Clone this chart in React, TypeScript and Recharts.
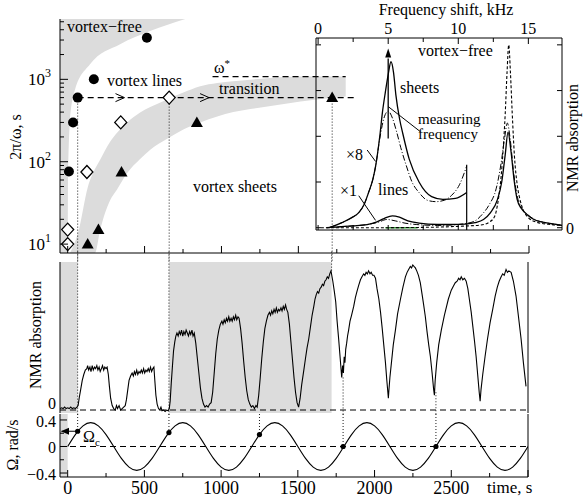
import React from 'react';
import {
  ComposedChart, LineChart, Line, Area, Scatter, XAxis, YAxis,
  ReferenceArea, ReferenceLine, ReferenceDot,
} from 'recharts';

const W = 585;
const H = 500;
const SERIF = '"Liberation Serif", "Times New Roman", serif';
const GRAY = '#dcdcdc';
const INK = '#000';

// shared time axis, s
const timeDomain: [number, number] = [-50, 3000];
const timeTicks = [0, 250, 500, 750, 1000, 1250, 1500, 1750, 2000, 2250, 2500, 2750, 3000];
const timeLabels = [0, 500, 1000, 1500, 2000, 2500];

// top panel: 2pi/omega, s (log)
const periodDomain: [number, number] = [7.8, 5400];
const periodTicks = [10, 20, 30, 40, 50, 60, 70, 80, 90, 100, 200, 300, 400, 500, 600, 700, 800, 900, 1000, 2000, 3000, 4000, 5000];
const periodMajors = [10, 100, 1000];

const circleTimes = [8, 35, 65, 170, 515];
const circlePeriods = [76, 300, 600, 1000, 3200];
const diamondTimes = [0, 0, 125, 345, 660];
const diamondPeriods = [10, 15, 75, 300, 600];
const triangleTimes = [130, 200, 350, 840, 1720];
const trianglePeriods = [10, 15, 75, 300, 600];

const vortexFreeTimes = [-50, -5, 2, 15, 48, 145, 341, 536, 765];
const vortexFreeEdge = [7.8, 7.8, 60, 325, 755, 1520, 2670, 3850, 5400];

const transitionTimes = [15, 67, 132, 178, 211, 276, 321, 387, 471, 537, 647, 752, 862, 973, 1077, 1299, 1514, 1808];
const transitionLow = [7.8, 7.8, 7.8, 7.8, 14.8, 34, 46, 73, 108, 140, 190, 246, 300, 355, 400, 468, 538, 620];
const transitionHigh = [7.8, 13.6, 50, 82, 106, 175, 225, 300, 396, 460, 570, 690, 822, 900, 946, 1030, 1080, 1080];

const omegaStar = 1080;
const omegaStarSpan = [942, 1808];
const measuredPeriod = 600;
const measuredSpan = [65, 1885];
const arrowTimes = [350, 900];
const markTimes = [65, 660, 1720];

// middle panel: NMR absorption vs time
const grayIntervals = [[-50, 65], [660, 1720]];
const nmrTrace: [number, number][] = [
  [-50, 0.01], [-40, 0.015], [-30, 0.01], [-20, 0.02], [-10, 0.01], [0, 0.015], [10, 0.01], [20, 0.02], [30, 0.01], [40, 0.015], [50, 0.01], [60, 0.02],
  [68, 0.03], [75, 0.08], [85, 0.14], [95, 0.2], [105, 0.24], [115, 0.27], [125, 0.28],
  [130, 0.3], [137, 0.27], [145, 0.29], [152, 0.26], [160, 0.3], [167, 0.27], [175, 0.29], [182, 0.28], [190, 0.3], [197, 0.27], [205, 0.29], [212, 0.26], [220, 0.28], [227, 0.3], [235, 0.27], [242, 0.29], [250, 0.28], [257, 0.29],
  [265, 0.24], [272, 0.16], [280, 0.08], [290, 0.03], [300, 0.01], [310, 0.0], [318, 0.03], [325, 0.01], [335, 0.03], [345, 0.0], [355, 0.01], [365, 0.02], [375, 0.03],
  [383, 0.07], [392, 0.14], [400, 0.2], [410, 0.23], [420, 0.25],
  [428, 0.23], [435, 0.26], [442, 0.24], [450, 0.27], [457, 0.24], [465, 0.26], [472, 0.25], [480, 0.27], [487, 0.25], [495, 0.28], [502, 0.25], [510, 0.27], [517, 0.26], [525, 0.28], [532, 0.26], [540, 0.29], [547, 0.26], [555, 0.28], [562, 0.29],
  [568, 0.2], [575, 0.1], [583, 0.04], [592, 0.01], [600, 0.0], [608, 0.02], [615, -0.005], [625, 0.0], [635, -0.01], [645, 0.0], [655, -0.005], [662, 0.01],
  [668, 0.06], [675, 0.18], [683, 0.3], [690, 0.4], [698, 0.46], [705, 0.5],
  [712, 0.52], [720, 0.5], [727, 0.53], [735, 0.51], [742, 0.54], [750, 0.5], [757, 0.53], [765, 0.51], [772, 0.54], [780, 0.52], [787, 0.5], [795, 0.53], [802, 0.51], [810, 0.54], [817, 0.5], [825, 0.52],
  [835, 0.45], [845, 0.35], [855, 0.25], [865, 0.15], [875, 0.08], [885, 0.04], [895, 0.02], [905, 0.03], [915, 0.02], [925, 0.04], [935, 0.05],
  [945, 0.12], [955, 0.25], [965, 0.38], [975, 0.48], [985, 0.54], [995, 0.58],
  [1005, 0.6], [1012, 0.58], [1020, 0.61], [1027, 0.59], [1035, 0.62], [1042, 0.6], [1050, 0.63], [1057, 0.6], [1065, 0.62], [1072, 0.6], [1080, 0.63], [1087, 0.61], [1095, 0.64], [1102, 0.61], [1110, 0.63], [1117, 0.62],
  [1127, 0.55], [1137, 0.45], [1147, 0.33], [1157, 0.22], [1167, 0.13], [1177, 0.07], [1187, 0.04], [1197, 0.02], [1207, 0.03], [1217, 0.01], [1227, 0.03], [1235, 0.02],
  [1245, 0.1], [1255, 0.22], [1265, 0.35], [1275, 0.46], [1285, 0.55], [1295, 0.6], [1305, 0.64],
  [1315, 0.66], [1322, 0.64], [1330, 0.67], [1337, 0.65], [1345, 0.68], [1352, 0.66], [1360, 0.69], [1367, 0.66], [1375, 0.68], [1382, 0.67], [1390, 0.69], [1397, 0.67], [1405, 0.7], [1412, 0.68], [1420, 0.71], [1427, 0.68], [1435, 0.66],
  [1445, 0.58], [1455, 0.46], [1465, 0.34], [1475, 0.22], [1485, 0.12], [1495, 0.05], [1505, 0.02],
  [1515, 0.08], [1525, 0.17], [1539, 0.27], [1550, 0.35], [1560, 0.42], [1571, 0.48], [1582, 0.56], [1593, 0.64], [1604, 0.7], [1612, 0.75], [1620, 0.78], [1628, 0.8], [1636, 0.79], [1644, 0.82], [1652, 0.83], [1660, 0.85], [1668, 0.84], [1676, 0.87], [1684, 0.88], [1692, 0.9], [1700, 0.89], [1708, 0.92], [1716, 0.94],
  [1728, 0.87], [1738, 0.8], [1747, 0.73], [1756, 0.6], [1766, 0.48], [1776, 0.35], [1786, 0.22],
  [1792, 0.3], [1797, 0.25], [1802, 0.36], [1807, 0.32], [1812, 0.41], [1818, 0.45], [1824, 0.5], [1831, 0.54], [1840, 0.6], [1850, 0.64], [1864, 0.7], [1875, 0.76], [1885, 0.8], [1896, 0.84], [1908, 0.88], [1918, 0.9], [1929, 0.92], [1937, 0.91], [1945, 0.93], [1953, 0.92], [1961, 0.94], [1970, 0.92], [1978, 0.93], [1987, 0.91], [1996, 0.91], [2006, 0.89],
  [2016, 0.82], [2028, 0.75], [2039, 0.66], [2050, 0.55], [2060, 0.44], [2071, 0.32], [2080, 0.2], [2090, 0.08],
  [2094, 0.14], [2100, 0.22], [2110, 0.32], [2122, 0.44], [2136, 0.54], [2150, 0.65], [2169, 0.75], [2185, 0.83], [2201, 0.9], [2212, 0.93], [2222, 0.95], [2233, 0.97], [2241, 0.96], [2249, 0.98], [2257, 0.97], [2266, 0.96], [2275, 0.94], [2286, 0.91], [2298, 0.86],
  [2310, 0.78], [2320, 0.71], [2331, 0.63], [2342, 0.53], [2353, 0.44], [2364, 0.36], [2375, 0.25], [2385, 0.14], [2390, 0.1],
  [2395, 0.2], [2400, 0.26], [2405, 0.32], [2418, 0.44], [2435, 0.54], [2455, 0.64], [2481, 0.75], [2500, 0.81], [2515, 0.84], [2526, 0.86], [2538, 0.87], [2548, 0.89], [2557, 0.88], [2565, 0.9], [2575, 0.88], [2586, 0.89], [2597, 0.87],
  [2608, 0.82], [2619, 0.74], [2630, 0.66], [2641, 0.56], [2652, 0.46], [2662, 0.36], [2672, 0.24], [2682, 0.12], [2688, 0.06],
  [2694, 0.14], [2705, 0.24], [2720, 0.36], [2736, 0.48], [2753, 0.59], [2770, 0.68], [2786, 0.77], [2800, 0.83], [2812, 0.87], [2825, 0.9], [2835, 0.92], [2845, 0.91], [2857, 0.95], [2866, 0.93], [2875, 0.94], [2890, 0.93], [2905, 0.87],
  [2922, 0.77], [2938, 0.63], [2955, 0.48], [2970, 0.32], [2987, 0.16],
];

// bottom panel: rotation velocity Omega, rad/s
const omegaTimes = [0, 50, 100, 150, 200, 250, 300, 350, 400, 450, 500, 550, 600, 650, 700, 750, 800, 850, 900, 950, 1000, 1050, 1100, 1150, 1200, 1250, 1300, 1350, 1400, 1450, 1500, 1550, 1600, 1650, 1700, 1750, 1800, 1850, 1900, 1950, 2000, 2050, 2100, 2150, 2200, 2250, 2300, 2350, 2400, 2450, 2500, 2550, 2600, 2650, 2700, 2750, 2800, 2850, 2900, 2950, 3000];
const omegaValues = [
  0, 0.18, 0.31, 0.36, 0.31, 0.18, 0, -0.18, -0.31, -0.36, -0.31, -0.18,
  0, 0.18, 0.31, 0.36, 0.31, 0.18, 0, -0.18, -0.31, -0.36, -0.31, -0.18,
  0, 0.18, 0.31, 0.36, 0.31, 0.18, 0, -0.18, -0.31, -0.36, -0.31, -0.18,
  0, 0.18, 0.31, 0.36, 0.31, 0.18, 0, -0.18, -0.31, -0.36, -0.31, -0.18,
  0, 0.18, 0.31, 0.36, 0.31, 0.18, 0, -0.18, -0.31, -0.36, -0.31, -0.18,
  0,
];
const omegaDotTimes = [65, 660, 1250, 1795, 2400];
const omegaDotValues = [0.23, 0.21, 0.18, 0, 0];
const omegaTicks = [-0.4, -0.2, 0, 0.2, 0.4];

// inset: NMR spectra, frequency shift in kHz
const vortexFreeSpectrum: [number, number][] = [[0.2, 0], [4, 0], [8, 0.01], [10, 0.03], [11.6, 0.06], [12.2, 0.12], [12.6, 0.25], [12.85, 0.6], [13.05, 1.1], [13.2, 1.7], [13.35, 2.5], [13.48, 3.4], [13.6, 4.0], [13.72, 3.4], [13.85, 2.5], [14.0, 1.6], [14.2, 0.95], [14.4, 0.62], [14.65, 0.38], [15.0, 0.22], [15.6, 0.12], [16.6, 0.07], [17.4, 0.05]];
const sheetsX1: [number, number][] = [[0.6, 0], [1.5, 0.02], [2.5, 0.04], [3.5, 0.07], [4.2, 0.13], [4.7, 0.2], [5.3, 0.26], [5.8, 0.23], [6.4, 0.15], [7.2, 0.1], [8.5, 0.07], [9.5, 0.07], [10.5, 0.08], [11.2, 0.11], [11.8, 0.18], [12.3, 0.33], [12.8, 0.62], [13.1, 1.0], [13.35, 1.6], [13.55, 2.09], [13.75, 1.7], [14.0, 1.0], [14.2, 0.62], [14.5, 0.42], [14.9, 0.29], [15.4, 0.18], [16.2, 0.11], [17, 0.07], [17.4, 0.05]];
const linesX1: [number, number][] = [[0.6, 0], [1.5, 0.02], [2.5, 0.04], [3.5, 0.07], [4.3, 0.12], [4.9, 0.18], [5.5, 0.15], [6.2, 0.1], [7.0, 0.07], [8.5, 0.05], [9.5, 0.06], [10.5, 0.09], [11.2, 0.15], [11.7, 0.29], [12.2, 0.5], [12.7, 0.85], [13.05, 1.4], [13.3, 1.95], [13.5, 2.29], [13.7, 1.95], [13.95, 1.2], [14.2, 0.7], [14.5, 0.45], [14.9, 0.3], [15.4, 0.19], [16.2, 0.11], [17, 0.07], [17.4, 0.05]];
const sheetsX8: [number, number][] = [[0.8, 0], [1.7, 0.11], [2.4, 0.22], [2.9, 0.33], [3.3, 0.52], [3.6, 0.77], [3.9, 1.05], [4.1, 1.34], [4.4, 2.0], [4.6, 2.55], [4.8, 2.97], [5.0, 3.35], [5.2, 3.63], [5.38, 3.4], [5.55, 2.9], [5.8, 2.4], [6.05, 2.05], [6.5, 1.5], [7.2, 1.0], [8.1, 0.68], [8.9, 0.62], [9.8, 0.64], [10.6, 0.77]];
const linesX8: [number, number][] = [[0.8, 0], [1.7, 0.11], [2.4, 0.22], [2.9, 0.33], [3.3, 0.52], [3.6, 0.77], [3.9, 1.05], [4.1, 1.34], [4.4, 1.95], [4.7, 2.4], [5.0, 2.55], [5.3, 2.4], [5.6, 2.1], [5.9, 1.75], [6.3, 1.35], [6.7, 1.0], [7.2, 0.77], [7.8, 0.6], [8.4, 0.57], [9.0, 0.6], [9.5, 0.7], [10.1, 0.95], [10.6, 1.35]];
const freqDomain: [number, number] = [-0.15, 17.4];
const freqTicks = [0, 2.5, 5, 7.5, 10, 12.5, 15];
const freqLabels = [0, 5, 10, 15];
const absDomain: [number, number] = [-0.05, 4.15];
const absTicks = [0, 1, 2, 3, 4];
const measuringFreq = 5;
const cutoffFreq = 10.6;

// panel boxes (plot areas, px)
const TOP = { l: 60, r: 528, t: 20, b: 253 };
const MID = { l: 60, r: 528, t: 263, b: 413 };
const BOT = { l: 60, r: 528, t: 415, b: 477 };
const INSET = { l: 316, r: 562, t: 38, b: 230 };
// every axis takes 1px of room, so the margins are one px smaller
const marginOf = (p: typeof TOP) => ({ left: p.l - 1, right: W - p.r - 1, top: p.t - 1, bottom: H - p.b - 1 });

const toPoints = (xs: number[], ys: number[]) => xs.map((t, i) => ({ t, v: ys[i] }));
const toBand = (xs: number[], lo: number[], hi: number[]) => xs.map((t, i) => ({ t, band: [lo[i], hi[i]] }));
const toSpec = (pairs: [number, number][]) => pairs.map(([f, v]) => ({ f, v }));

const layer: React.CSSProperties = { position: 'absolute', left: 0, top: 0 };
const font = { fontFamily: SERIF, fill: INK };
const axisBase = { tickSize: 0, tickMargin: 0, tickLine: false, stroke: INK, interval: 0 as const, allowDataOverflow: true };

const timeTick = (labels: boolean) => (p: any) => {
  const v = p.payload.value;
  const major = v % 500 === 0;
  return (
    <g>
      <line x1={p.x} x2={p.x} y1={p.y} y2={p.y - (major ? 7 : 4)} stroke={INK} />
      {labels && timeLabels.includes(v) && (
        <text x={p.x} y={p.y + 17} textAnchor="middle" fontSize={18} {...font}>{v}</text>
      )}
    </g>
  );
};

const periodTick = (p: any) => {
  const v = p.payload.value;
  const major = periodMajors.includes(v);
  return (
    <g>
      <line x1={p.x} x2={p.x + (major ? 8 : 4)} y1={p.y} y2={p.y} stroke={INK} />
      {major && (
        <text x={p.x - 9} y={p.y + 6} textAnchor="end" fontSize={17} {...font}>
          10<tspan fontSize={12} dy={-8}>{Math.round(Math.log10(v))}</tspan>
        </text>
      )}
    </g>
  );
};

const omegaTick = (p: any) => {
  const v = p.payload.value;
  const major = Math.abs(v) > 0.3 || v === 0;
  const label = v === 0 ? '0' : v < 0 ? `\u2212${Math.abs(v)}` : `${v}`;
  return (
    <g>
      <line x1={p.x} x2={p.x + (major ? 7 : 4)} y1={p.y} y2={p.y} stroke={INK} />
      {major && <text x={p.x - 4} y={p.y + 7} textAnchor="end" fontSize={16} {...font}>{label}</text>}
    </g>
  );
};

const zeroLabel = (p: any) => (
  <text x={p.x - 4} y={p.y - 1} textAnchor="end" fontSize={16} {...font}>0</text>
);
const noTick = () => <g />;

const freqTopTick = (p: any) => {
  const v = p.payload.value;
  return (
    <g>
      <line x1={p.x} x2={p.x} y1={p.y} y2={p.y + (freqLabels.includes(v) ? 6 : 4)} stroke={INK} />
      {freqLabels.includes(v) && <text x={p.x} y={p.y - 4} textAnchor="middle" fontSize={16} {...font}>{v}</text>}
    </g>
  );
};
const freqBottomTick = (p: any) => (
  <line x1={p.x} x2={p.x} y1={p.y} y2={p.y - 5} stroke={INK} />
);
const absLeftTick = (p: any) => (
  <line x1={p.x} x2={p.x + 5} y1={p.y} y2={p.y} stroke={INK} />
);
const absRightTick = (p: any) => (
  <g>
    <line x1={p.x} x2={p.x - 5} y1={p.y} y2={p.y} stroke={INK} />
    {p.payload.value === 0 && <text x={p.x + 4} y={p.y + 6} fontSize={16} {...font}>0</text>}
  </g>
);

const Circle = (p: any) => <circle cx={p.cx} cy={p.cy} r={5} fill={INK} />;
const Dot = (p: any) => <circle cx={p.cx} cy={p.cy} r={2.6} fill={INK} />;
const Diamond = (p: any) => (
  <path d={`M${p.cx},${p.cy - 6.5}L${p.cx + 6},${p.cy}L${p.cx},${p.cy + 6.5}L${p.cx - 6},${p.cy}Z`} fill="#fff" stroke={INK} strokeWidth={1.3} />
);
const Triangle = (p: any) => (
  <path d={`M${p.cx},${p.cy - 6}L${p.cx + 6},${p.cy + 4.5}L${p.cx - 6},${p.cy + 4.5}Z`} fill={INK} />
);
const Chevron = (p: any) => (
  <path d={`M${p.cx - 6},${p.cy - 4}L${p.cx + 3},${p.cy}L${p.cx - 6},${p.cy + 4}`} fill="none" stroke={INK} strokeWidth={1} />
);
const LeftHead = (p: any) => (
  <path d={`M${p.cx + 1},${p.cy}L${p.cx + 9},${p.cy - 3.5}L${p.cx + 9},${p.cy + 3.5}Z`} fill={INK} />
);
const UpHead = (p: any) => (
  <path d={`M${p.cx},${p.cy}L${p.cx - 3},${p.cy + 9}L${p.cx + 3},${p.cy + 9}Z`} fill={INK} />
);

const dotted = { stroke: INK, strokeWidth: 0.9, strokeDasharray: '1 2', ifOverflow: 'visible' as const };
const dashed = { stroke: INK, strokeWidth: 1.1, strokeDasharray: '6 4', ifOverflow: 'visible' as const };

function TopPanel() {
  return (
    <div style={layer}>
      <ComposedChart width={W} height={H} margin={marginOf(TOP)}>
        <XAxis type="number" dataKey="t" domain={timeDomain} ticks={timeTicks} height={1} tick={timeTick(false)} {...axisBase} />
        <YAxis type="number" scale="log" domain={periodDomain} ticks={periodTicks} width={1} tick={periodTick} {...axisBase} />
        <ReferenceArea x1={-50} x2={0} fill={GRAY} fillOpacity={1} stroke="none" />
        <Area data={toBand(vortexFreeTimes, vortexFreeEdge, vortexFreeEdge.map(() => periodDomain[1]))} dataKey="band"
          type="monotone" fill={GRAY} fillOpacity={1} stroke="none" isAnimationActive={false} />
        <Area data={toBand(transitionTimes, transitionLow, transitionHigh)} dataKey="band"
          type="monotone" fill={GRAY} fillOpacity={1} stroke="none" isAnimationActive={false} />
        <ReferenceLine segment={[{ x: omegaStarSpan[0], y: omegaStar }, { x: omegaStarSpan[1], y: omegaStar }]} {...dashed} />
        <ReferenceLine segment={[{ x: measuredSpan[0], y: measuredPeriod }, { x: measuredSpan[1], y: measuredPeriod }]} {...dashed} />
        {markTimes.map((t) => (
          <ReferenceLine key={t} segment={[{ x: t, y: measuredPeriod }, { x: t, y: 6 }]} {...dotted} />
        ))}
        {arrowTimes.map((t) => (
          <ReferenceDot key={t} x={t} y={measuredPeriod} shape={Chevron} />
        ))}
        <Scatter data={toPoints(circleTimes, circlePeriods)} dataKey="v" shape={Circle} isAnimationActive={false} />
        <Scatter data={toPoints(diamondTimes, diamondPeriods)} dataKey="v" shape={Diamond} isAnimationActive={false} />
        <Scatter data={toPoints(triangleTimes, trianglePeriods)} dataKey="v" shape={Triangle} isAnimationActive={false} />
      </ComposedChart>
    </div>
  );
}

function Inset() {
  const common = { xAxisId: 'top', yAxisId: 'l', dataKey: 'v', type: 'monotone' as const, dot: false, isAnimationActive: false, stroke: INK };
  const ref = { xAxisId: 'top', yAxisId: 'l', stroke: INK, strokeWidth: 1 };
  return (
    <div style={layer}>
      <LineChart width={W} height={H} margin={marginOf(INSET)}>
        <XAxis xAxisId="top" orientation="top" type="number" dataKey="f" domain={freqDomain} ticks={freqTicks} height={1} tick={freqTopTick} {...axisBase} />
        <XAxis xAxisId="bot" orientation="bottom" type="number" dataKey="f" domain={freqDomain} ticks={freqTicks} height={1} tick={freqBottomTick} {...axisBase} />
        <YAxis yAxisId="l" type="number" domain={absDomain} ticks={absTicks} width={1} tick={absLeftTick} {...axisBase} />
        <YAxis yAxisId="r" orientation="right" type="number" domain={absDomain} ticks={absTicks} width={1} tick={absRightTick} {...axisBase} />
        <ReferenceLine {...ref} segment={[{ x: 4.8, y: 0 }, { x: 7.1, y: 0 }]} stroke="#3a9a3a" strokeWidth={1.5} />
        <Line {...common} data={toSpec(vortexFreeSpectrum)} strokeWidth={1.1} strokeDasharray="3 2" />
        <Line {...common} data={toSpec(linesX1)} strokeWidth={1} strokeDasharray="6 2 1 2" />
        <Line {...common} data={toSpec(linesX8)} strokeWidth={1} strokeDasharray="6 2 1 2" />
        <Line {...common} data={toSpec(sheetsX1)} strokeWidth={1.3} />
        <Line {...common} data={toSpec(sheetsX8)} strokeWidth={1.3} />
        <ReferenceLine {...ref} segment={[{ x: cutoffFreq, y: 1.38 }, { x: cutoffFreq, y: -0.05 }]} strokeWidth={1.2} />
        <ReferenceLine {...ref} segment={[{ x: measuringFreq, y: 1.95 }, { x: measuringFreq, y: 3.7 }]} strokeWidth={1.3} />
        <ReferenceDot xAxisId="top" yAxisId="l" x={measuringFreq} y={3.92} shape={UpHead} />
        <ReferenceLine {...ref} segment={[{ x: measuringFreq, y: 2.65 }, { x: 7.3, y: 2.1 }]} />
        <ReferenceLine {...ref} segment={[{ x: 3.5, y: 1.7 }, { x: 4.1, y: 1.45 }]} />
        <ReferenceLine {...ref} segment={[{ x: 2.9, y: 0.7 }, { x: 4.1, y: 0.16 }]} />
      </LineChart>
    </div>
  );
}

function MiddlePanel() {
  return (
    <div style={layer}>
      <ComposedChart width={W} height={H} margin={marginOf(MID)}>
        <XAxis type="number" dataKey="t" domain={timeDomain} height={1} axisLine={false} tick={noTick} {...axisBase} />
        <YAxis yAxisId="l" type="number" domain={[-0.02, 1]} ticks={[0]} width={1} tick={zeroLabel} {...axisBase} />
        <YAxis yAxisId="r" orientation="right" type="number" domain={[-0.02, 1]} ticks={[0]} width={1} tick={noTick} {...axisBase} />
        {grayIntervals.map(([a, b]) => (
          <ReferenceArea key={a} yAxisId="l" x1={a} x2={b} fill={GRAY} fillOpacity={1} stroke="none" />
        ))}
        <ReferenceLine yAxisId="l" y={0} {...dashed} />
        <ReferenceLine yAxisId="l" segment={[{ x: 65, y: 1.07 }, { x: 65, y: -0.035 }]} {...dotted} />
        <ReferenceLine yAxisId="l" segment={[{ x: 660, y: 1.07 }, { x: 660, y: -0.035 }]} {...dotted} />
        <ReferenceLine yAxisId="l" segment={[{ x: 1720, y: 1.07 }, { x: 1720, y: 0.94 }]} {...dotted} />
        <ReferenceLine yAxisId="l" segment={[{ x: 1795, y: 0.22 }, { x: 1795, y: -0.035 }]} {...dotted} />
        <ReferenceLine yAxisId="l" segment={[{ x: 2400, y: 0.12 }, { x: 2400, y: -0.035 }]} {...dotted} />
        <Line yAxisId="l" data={nmrTrace.map(([t, v]) => ({ t, v }))} dataKey="v" type="linear" dot={false}
          stroke={INK} strokeWidth={1.1} isAnimationActive={false} />
      </ComposedChart>
    </div>
  );
}

function BottomPanel() {
  return (
    <div style={layer}>
      <ComposedChart width={W} height={H} margin={marginOf(BOT)}>
        <XAxis type="number" dataKey="t" domain={timeDomain} ticks={timeTicks} height={1} tick={timeTick(true)} {...axisBase} />
        <YAxis yAxisId="l" type="number" domain={[-0.46, 0.49]} ticks={omegaTicks} width={1} tick={omegaTick} {...axisBase} />
        <YAxis yAxisId="r" orientation="right" type="number" domain={[-0.46, 0.49]} ticks={[0]} width={1} tick={noTick} {...axisBase} />
        <ReferenceArea yAxisId="l" x1={-50} x2={0} fill={GRAY} fillOpacity={1} stroke="none" />
        <ReferenceLine yAxisId="l" y={0} {...dashed} />
        {omegaDotTimes.map((t, i) => (
          <ReferenceLine key={t} yAxisId="l" segment={[{ x: t, y: 0.49 }, { x: t, y: omegaDotValues[i] }]} {...dotted} />
        ))}
        <ReferenceLine yAxisId="l" segment={[{ x: omegaDotTimes[0], y: omegaDotValues[0] }, { x: -40, y: omegaDotValues[0] }]} stroke={INK} strokeWidth={1} />
        <ReferenceDot yAxisId="l" x={-50} y={omegaDotValues[0]} shape={LeftHead} />
        <Line yAxisId="l" data={toPoints(omegaTimes, omegaValues)} dataKey="v" type="natural" dot={false}
          stroke={INK} strokeWidth={1.1} isAnimationActive={false} />
        <Scatter yAxisId="l" data={toPoints(omegaDotTimes, omegaDotValues)} dataKey="v" shape={Dot} isAnimationActive={false} />
      </ComposedChart>
    </div>
  );
}

function Texts() {
  const t = (x: number, y: number, s: React.ReactNode, extra: any = {}) => (
    <text x={x} y={y} fontSize={16} {...font} {...extra}>{s}</text>
  );
  const vt = (x: number, y: number, s: React.ReactNode) => (
    <text x={x} y={y} fontSize={16} textAnchor="middle" transform={`rotate(-90 ${x} ${y})`} {...font}>{s}</text>
  );
  return (
    <svg width={W} height={H} style={{ ...layer, pointerEvents: 'none' }}>
      {t(67, 32, 'vortex\u2212free')}
      {t(107, 86, 'vortex lines')}
      {t(193, 192, 'vortex sheets')}
      {t(214, 73, <>{'\u03c9'}<tspan fontSize={11} dy={-6}>*</tspan></>)}
      {t(219, 94, 'transition')}
      {vt(21, 137, '2\u03c0/\u03c9, s')}
      {t(446, 15, 'Frequency shift, kHz', { textAnchor: 'middle' })}
      {t(418, 56, 'vortex\u2212free')}
      {t(400, 93, 'sheets')}
      {t(418, 124, 'measuring', { fontSize: 15 })}
      {t(418, 139, 'frequency', { fontSize: 15 })}
      {t(346, 160, '\u00d78')}
      {t(378, 195, 'lines')}
      {t(340, 196, '\u00d71')}
      {vt(578, 138, 'NMR absorption')}
      {vt(41, 335, 'NMR absorption')}
      {vt(18, 445, '\u03a9, rad/s')}
      {t(83, 442, <>{'\u03a9'}<tspan fontSize={11} dy={4}>c</tspan></>)}
      {t(487, 493, 'time, s', { fontSize: 17 })}
    </svg>
  );
}

export default function App() {
  return (
    <div style={{ position: 'absolute', left: 0, top: 0, width: W, height: H, background: '#fff', overflow: 'hidden' }}>
      <TopPanel />
      <MiddlePanel />
      <BottomPanel />
      <Inset />
      <Texts />
    </div>
  );
}
